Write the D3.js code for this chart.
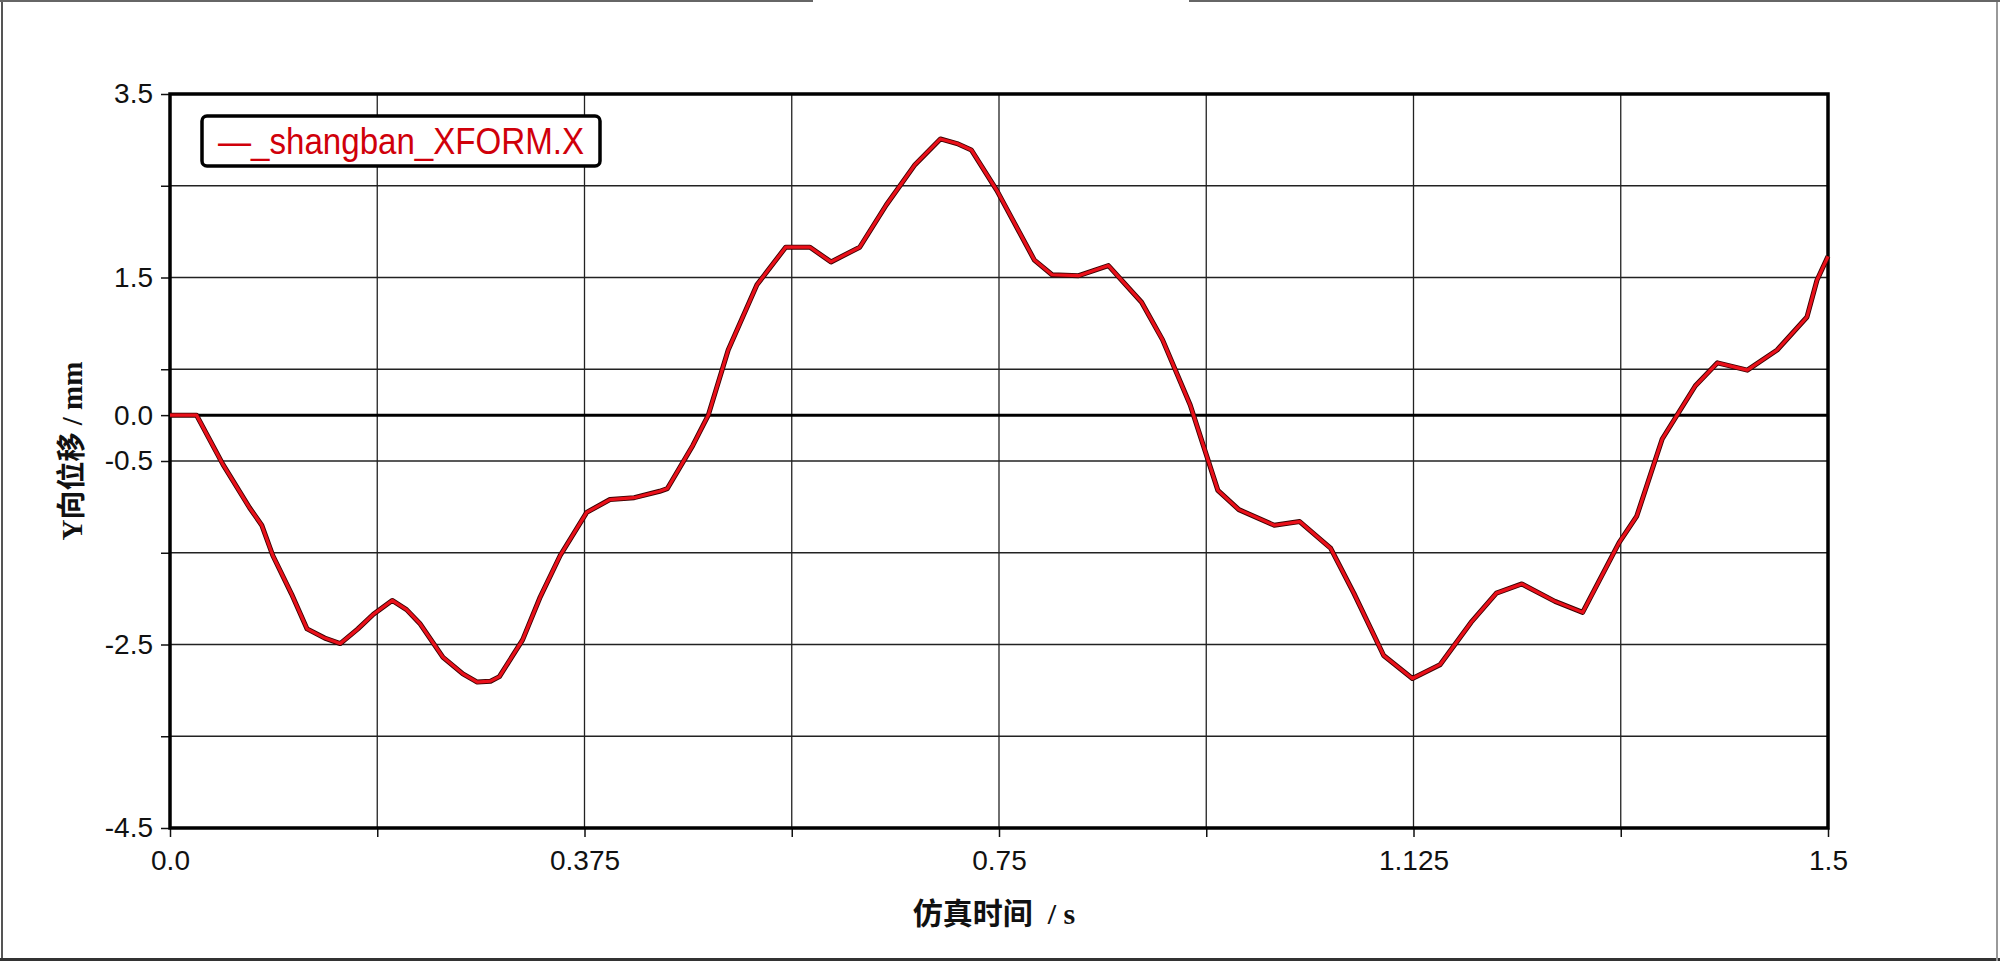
<!DOCTYPE html>
<html>
<head>
<meta charset="utf-8">
<script src="https://cdn.jsdelivr.net/npm/d3@7"></script>
<style>
html,body{margin:0;padding:0;background:#fff;}
svg{display:block;}
</style>
</head>
<body>
<svg id="chart" width="2000" height="962"></svg>
<script>
// ---- data ----
const timeS = [0,0.024,0.048,0.072,0.083,0.093,0.110,0.124,0.140,0.154,0.170,0.184,0.201,0.214,0.226,0.247,0.265,0.278,0.290,0.298,0.319,0.335,0.353,0.377,0.398,0.420,0.443,0.450,0.473,0.487,0.505,0.531,0.557,0.579,0.598,0.624,0.648,0.674,0.697,0.712,0.725,0.748,0.782,0.798,0.822,0.849,0.879,0.898,0.923,0.948,0.967,0.999,1.022,1.050,1.071,1.098,1.124,1.149,1.177,1.200,1.223,1.253,1.278,1.311,1.327,1.350,1.380,1.400,1.427,1.454,1.481,1.490,1.500];
const yDisp = [0,0,-0.54,-1.01,-1.20,-1.53,-1.95,-2.33,-2.43,-2.49,-2.33,-2.17,-2.02,-2.12,-2.27,-2.64,-2.82,-2.91,-2.90,-2.85,-2.45,-1.98,-1.53,-1.06,-0.92,-0.90,-0.83,-0.80,-0.33,0.0,0.71,1.42,1.83,1.83,1.67,1.83,2.29,2.73,3.01,2.96,2.89,2.45,1.69,1.53,1.52,1.63,1.23,0.82,0.11,-0.82,-1.03,-1.20,-1.16,-1.45,-1.94,-2.62,-2.87,-2.72,-2.26,-1.94,-1.84,-2.03,-2.15,-1.39,-1.10,-0.26,0.32,0.57,0.49,0.71,1.07,1.47,1.73];
const seriesName = "—_shangban_XFORM.X";
const xTickValues = [0,0.1875,0.375,0.5625,0.75,0.9375,1.125,1.3125,1.5];
const xTickLabels = ["0.0","","0.375","","0.75","","1.125","","1.5"];
const yTickValues = [3.5,2.5,1.5,0.5,0,-0.5,-1.5,-2.5,-3.5,-4.5];
const yTickLabels = ["3.5","","1.5","","0.0","-0.5","","-2.5","","-4.5"];
const xTitle = "仿真时间  / s";
const yTitle = "Y向位移 / mm";

// ---- layout ----
const svg = d3.select("#chart");
const L = 170, R = 1828, T = 94, B = 828;
const x = d3.scaleLinear().domain([0,1.5]).range([L,R]);
const y = d3.scaleLinear().domain([-4.5,3.5]).range([B,T]);

// outer window frame
svg.append("line").attr("x1",2).attr("x2",2).attr("y1",0).attr("y2",961).attr("stroke","#555").attr("stroke-width",2);
svg.append("line").attr("x1",0).attr("x2",2000).attr("y1",959.5).attr("y2",959.5).attr("stroke","#333").attr("stroke-width",3);
svg.append("line").attr("x1",1997).attr("x2",1997).attr("y1",0).attr("y2",961).attr("stroke","#999").attr("stroke-width",2);
svg.append("line").attr("x1",0).attr("x2",813).attr("y1",1).attr("y2",1).attr("stroke","#666").attr("stroke-width",2);
svg.append("line").attr("x1",1189).attr("x2",2000).attr("y1",1).attr("y2",1).attr("stroke","#666").attr("stroke-width",2);

// gridlines
const grid = svg.append("g");
grid.selectAll(".hg").data(yTickValues.filter(v=>v!==0 && v!==3.5 && v!==-4.5)).enter().append("line")
  .attr("x1",L).attr("x2",R).attr("y1",d=>y(d)).attr("y2",d=>y(d))
  .attr("stroke","#222").attr("stroke-width",1.3);
grid.selectAll(".vg").data(xTickValues.filter(v=>v>0 && v<1.5)).enter().append("line")
  .attr("y1",T).attr("y2",B).attr("x1",d=>x(d)).attr("x2",d=>x(d))
  .attr("stroke","#222").attr("stroke-width",1.3);
// zero line
svg.append("line").attr("x1",L).attr("x2",R).attr("y1",y(0)).attr("y2",y(0)).attr("stroke","#000").attr("stroke-width",3);

// axes
const fmtY = d => yTickLabels[yTickValues.indexOf(d)];
const fmtX = d => xTickLabels[xTickValues.indexOf(d)];
const yAxis = svg.append("g").attr("transform",`translate(${L},0)`)
  .call(d3.axisLeft(y).tickValues(yTickValues).tickFormat(fmtY).tickSize(9).tickPadding(8));
const xAxis = svg.append("g").attr("transform",`translate(0,${B})`)
  .call(d3.axisBottom(x).tickValues(xTickValues).tickFormat(fmtX).tickSize(9).tickPadding(13));
[yAxis,xAxis].forEach(a=>{
  a.select(".domain").remove();
  a.selectAll(".tick line").attr("stroke","#111").attr("stroke-width",1.5);
  a.selectAll(".tick text").attr("fill","#111").style("font-family","'Liberation Sans', Arial, sans-serif").style("font-size","28px");
});

// plot frame
svg.append("rect").attr("x",L).attr("y",T).attr("width",R-L).attr("height",B-T)
  .attr("fill","none").attr("stroke","#000").attr("stroke-width",3.5);

// series line
const pts = timeS.map((t,i)=>[t,yDisp[i]]);
const line = d3.line().x(d=>x(d[0])).y(d=>y(d[1]));
svg.append("path").datum(pts).attr("d",line).attr("fill","none").attr("stroke","#3a0000").attr("stroke-width",5).attr("stroke-linejoin","round");
svg.append("path").datum(pts).attr("d",line).attr("fill","none").attr("stroke","#ea101a").attr("stroke-width",3.2).attr("stroke-linejoin","round");

// legend
const lg = svg.append("g");
lg.append("rect").attr("x",202).attr("y",116).attr("width",398).attr("height",50).attr("rx",5)
  .attr("fill","#fff").attr("stroke","#000").attr("stroke-width",3.5);
lg.append("text").attr("x",218).attr("y",154).text(seriesName)
  .attr("fill","#d0000a").attr("textLength",366).attr("lengthAdjust","spacingAndGlyphs")
  .style("font-family","'Liberation Sans Narrow','Arial Narrow','Liberation Sans',sans-serif").style("font-size","37px");

// axis titles
svg.append("text").attr("x",994).attr("y",924).attr("text-anchor","middle").text(xTitle)
  .attr("fill","#111").style("font-family","'Liberation Serif','Noto Sans CJK SC',serif").style("font-weight","bold").style("font-size","30px")
  .style("white-space","pre");
svg.append("text").attr("transform","translate(82,451) rotate(-90)").attr("text-anchor","middle").text(yTitle)
  .attr("fill","#111").style("font-family","'Liberation Serif','Noto Sans CJK SC',serif").style("font-weight","bold").style("font-size","29px");
</script>
</body>
</html>
